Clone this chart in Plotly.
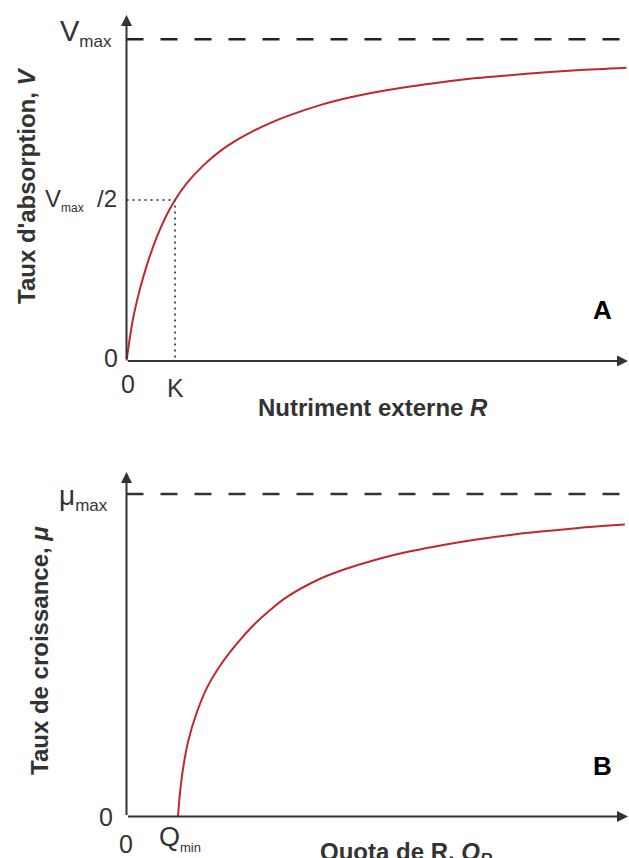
import plotly.graph_objects as go

# panel A : uptake rate vs external nutrient (Vmax = 1, K = 1)
r_ext = [0, 0.14, 0.28, 0.42, 0.62, 0.80, 1.0, 1.24, 1.58, 1.93, 2.27, 2.61, 2.96, 3.30,
         3.99, 4.46, 5.16, 5.85, 6.53, 7.22, 7.91, 8.59, 9.28, 10.31]
v_uptake = [0, 0.135, 0.225, 0.298, 0.383, 0.445, 0.5, 0.552, 0.607, 0.652, 0.686, 0.714, 0.739, 0.76,
            0.795, 0.814, 0.836, 0.853, 0.867, 0.879, 0.888, 0.896, 0.903, 0.911]
k_half = 1.0
v_max = 1.0

# panel B : growth rate vs cell quota (mu_max = 1, Qmin = 1)
q_quota = [1.0, 1.04, 1.10, 1.20, 1.36, 1.56, 1.82, 2.14, 2.46, 2.79, 3.11, 3.76, 4.21,
           4.86, 5.51, 6.15, 6.80, 7.45, 8.09, 8.74, 9.68]
mu_growth = [0, 0.075, 0.15, 0.235, 0.32, 0.398, 0.468, 0.535, 0.592, 0.64, 0.68, 0.737, 0.765,
             0.797, 0.822, 0.842, 0.859, 0.873, 0.884, 0.894, 0.905]
q_min = 1.0
mu_max = 1.0

x_end_a, y_end_a = 10.34, 1.075
x_end_b, y_end_b = 9.74, 1.068

RED = "#c1272d"
INK = "#333333"
FONT = "Liberation Sans"

fig = go.Figure()

# curves
fig.add_trace(go.Scatter(x=r_ext, y=v_uptake, mode="lines", line=dict(color=RED, width=2, shape="spline"),
                         xaxis="x", yaxis="y", showlegend=False))
fig.add_trace(go.Scatter(x=q_quota, y=mu_growth, mode="lines", line=dict(color=RED, width=2, shape="spline"),
                         xaxis="x2", yaxis="y2", showlegend=False))

# asymptotes
fig.add_trace(go.Scatter(x=[0, x_end_a], y=[v_max, v_max], mode="lines",
                         line=dict(color="#222", width=2.5, dash="17px,17px"),
                         xaxis="x", yaxis="y", showlegend=False))
fig.add_trace(go.Scatter(x=[0, x_end_b], y=[mu_max, mu_max], mode="lines",
                         line=dict(color="#333", width=2.5, dash="17px,17px"),
                         xaxis="x2", yaxis="y2", showlegend=False))

# K / Vmax/2 dotted guides
fig.add_trace(go.Scatter(x=[0, k_half, k_half], y=[v_max / 2, v_max / 2, 0], mode="lines",
                         line=dict(color="#555", width=2, dash="2px,4px"),
                         xaxis="x", yaxis="y", showlegend=False))

ax_common = dict(showgrid=False, zeroline=False, showline=False, showticklabels=False, ticks="", fixedrange=True)
fig.update_layout(
    width=629, height=858,
    margin=dict(l=0, r=0, t=0, b=0),
    plot_bgcolor="white", paper_bgcolor="white",
    xaxis=dict(domain=[126.5 / 629, 628 / 629], range=[0, x_end_a], anchor="y", **ax_common),
    yaxis=dict(domain=[1 - 361 / 858, 1 - 15 / 858], range=[0, y_end_a], anchor="x", **ax_common),
    xaxis2=dict(domain=[126.5 / 629, 628 / 629], range=[0, x_end_b], anchor="y2", **ax_common),
    yaxis2=dict(domain=[1 - 816.5 / 858, 1 - 472 / 858], range=[0, y_end_b], anchor="x2", **ax_common),
    font=dict(family=FONT, color=INK),
)

ann = []
# axes with arrowheads
for xr, yr, xe, ye in [("x", "y", x_end_a, y_end_a), ("x2", "y2", x_end_b, y_end_b)]:
    ann.append(dict(x=xe, y=0, ax=0, ay=0, xref=xr, yref=yr, axref=xr, ayref=yr, text="",
                    showarrow=True, arrowhead=2, arrowsize=1.1, arrowwidth=2, arrowcolor=INK, standoff=0))
    ann.append(dict(x=0, y=ye, ax=0, ay=0, xref=xr, yref=yr, axref=xr, ayref=yr, text="",
                    showarrow=True, arrowhead=2, arrowsize=1.1, arrowwidth=2, arrowcolor=INK, standoff=0))

def label(text, x, y, xr, yr, size=25, xanchor="center", yanchor="middle", xshift=0, yshift=0, **kw):
    ann.append(dict(text=text, x=x, y=y, xref=xr, yref=yr, showarrow=False, xanchor=xanchor,
                    yanchor=yanchor, xshift=xshift, yshift=yshift, font=dict(size=size, family=FONT, color=INK), **kw))

def sub(base, small, px):
    return base + "<sub><span style='font-size:%dpx'>%s</span></sub>" % (px, small)

# panel A labels
label(sub("V", "max", 17), 0, v_max, "x", "y", size=29, xanchor="right", xshift=-13, yshift=6)
label(sub("V", "max", 12) + "&nbsp; /2", 0, v_max / 2, "x", "y", size=24, xanchor="right", xshift=-8, yshift=0)
label("0", 0, 0, "x", "y", xanchor="right", xshift=-7, yshift=3)
label("0", 0, 0, "x", "y", yanchor="top", xshift=1, yshift=-7)
label("K", k_half, 0, "x", "y", yanchor="top", yshift=-11)
label("<b>Nutriment externe <i>R</i></b>", 373 / 629, 0, "paper", "y", size=24, yanchor="top", yshift=-31)
label("<b>Taux d'absorption, <i>V</i></b>", 26 / 629, 1 - 186 / 858, "paper", "paper", size=24, textangle=-90)
ann.append(dict(text="<b>A</b>", x=602 / 629, y=1 - 310 / 858, xref="paper", yref="paper", showarrow=False,
                xanchor="center", yanchor="middle", font=dict(size=26, family=FONT, color="black")))

# panel B labels
label(sub("μ", "max", 17), 0, mu_max, "x2", "y2", size=28, xanchor="right", xshift=-17, yshift=-4)
label("0", 0, 0, "x2", "y2", xanchor="right", xshift=-12, yshift=0)
label("0", 0, 0, "x2", "y2", yanchor="top", xshift=-1, yshift=-11)
label(sub("Q", "min", 13), q_min, 0, "x2", "y2", size=27, yanchor="top", xshift=2, yshift=-3)
label("<b>Quota de R, <i>Q<sub>R</sub></i></b>", 406 / 629, 1 - 836 / 858, "paper", "paper", size=24,
      yanchor="top")
label("<b>Taux de croissance, <i>μ</i></b>", 39 / 629, 1 - 651 / 858, "paper", "paper", size=24, textangle=-90)
ann.append(dict(text="<b>B</b>", x=602 / 629, y=1 - 766 / 858, xref="paper", yref="paper", showarrow=False,
                xanchor="center", yanchor="middle", font=dict(size=26, family=FONT, color="black")))

fig.update_layout(annotations=ann)
fig.write_html("out.html", config={"displayModeBar": False},
               post_script="document.body.style.margin='0';")
